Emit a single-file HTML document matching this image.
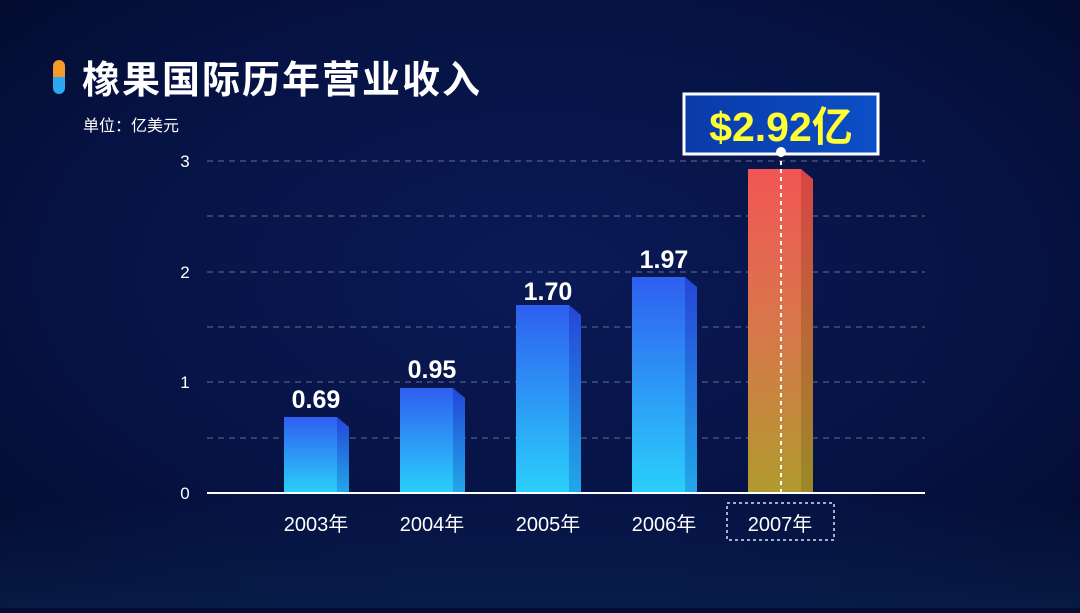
<!DOCTYPE html>
<html><head><meta charset="utf-8"><style>
body{margin:0;width:1080px;height:608px;overflow:hidden;background:#050d33;font-family:"Liberation Sans","Noto Sans CJK SC",sans-serif}
</style></head><body>
<svg width="1080" height="608" viewBox="0 0 1080 608" xmlns="http://www.w3.org/2000/svg" style="font-family:'Liberation Sans','Noto Sans CJK SC',sans-serif">
<defs>
<radialGradient id="bg" cx="0.5" cy="0.45" r="0.75">
<stop offset="0" stop-color="#0a1a55"/><stop offset="0.6" stop-color="#061243"/><stop offset="1" stop-color="#030a2a"/></radialGradient>
<linearGradient id="bf" x1="0" y1="0" x2="0" y2="1"><stop offset="0" stop-color="#2f5ff0"/><stop offset="1" stop-color="#2ad0fb"/></linearGradient>
<linearGradient id="bs" x1="0" y1="0" x2="0" y2="1"><stop offset="0" stop-color="#2545d8"/><stop offset="1" stop-color="#22a8e8"/></linearGradient>
<linearGradient id="rf" x1="0" y1="0" x2="0" y2="1"><stop offset="0" stop-color="#f25555"/><stop offset="0.5" stop-color="#d8784a"/><stop offset="1" stop-color="#b09a2e"/></linearGradient>
<linearGradient id="rs" x1="0" y1="0" x2="0" y2="1"><stop offset="0" stop-color="#d84545"/><stop offset="1" stop-color="#9a8a28"/></linearGradient>
<linearGradient id="lbl" x1="0" y1="0" x2="1" y2="0"><stop offset="0" stop-color="#0a3aa8"/><stop offset="1" stop-color="#0b4fc8"/></linearGradient>
<linearGradient id="pill" x1="0" y1="0" x2="0" y2="1"><stop offset="0" stop-color="#f59a2a"/><stop offset="0.5" stop-color="#f59a2a"/><stop offset="0.5" stop-color="#2aa8f0"/><stop offset="1" stop-color="#2aa8f0"/></linearGradient>
<linearGradient id="bot" x1="0" y1="0" x2="0" y2="1"><stop offset="0" stop-color="#0a2a5a" stop-opacity="0"/><stop offset="1" stop-color="#0a2a5a" stop-opacity="0.5"/></linearGradient>
</defs>
<rect width="1080" height="608" fill="url(#bg)"/>
<rect x="0" y="500" width="1080" height="108" fill="url(#bot)"/>
<rect x="53" y="60" width="12" height="34" rx="6" fill="url(#pill)"/>
<text x="82" y="93" font-size="38" font-weight="bold" fill="#fff" letter-spacing="2">橡果国际历年营业收入</text>
<text x="83" y="131" font-size="16" fill="#fff">单位：亿美元</text>
<g stroke="#8a93b0" stroke-dasharray="6,5" stroke-width="1" opacity="0.7">
<line x1="207" y1="161" x2="925" y2="161"/><line x1="207" y1="216" x2="925" y2="216"/>
<line x1="207" y1="272" x2="925" y2="272"/><line x1="207" y1="327" x2="925" y2="327"/>
<line x1="207" y1="382" x2="925" y2="382"/><line x1="207" y1="438" x2="925" y2="438"/>
</g>
<g font-size="17" fill="#fff" text-anchor="middle">
<text x="185" y="167">3</text><text x="185" y="278">2</text><text x="185" y="388">1</text><text x="185" y="499">0</text>
</g>
<g>
<rect x="284" y="417" width="53" height="76" fill="url(#bf)"/><polygon points="337,417 349,427 349,493 337,493" fill="url(#bs)"/>
<rect x="400" y="388" width="53" height="105" fill="url(#bf)"/><polygon points="453,388 465,398 465,493 453,493" fill="url(#bs)"/>
<rect x="516" y="305" width="53" height="188" fill="url(#bf)"/><polygon points="569,305 581,315 581,493 569,493" fill="url(#bs)"/>
<rect x="632" y="277" width="53" height="216" fill="url(#bf)"/><polygon points="685,277 697,287 697,493 685,493" fill="url(#bs)"/>
<rect x="748" y="169" width="53" height="324" fill="url(#rf)"/><polygon points="801,169 813,179 813,493 801,493" fill="url(#rs)"/>
</g>
<line x1="207" y1="493" x2="925" y2="493" stroke="#fff" stroke-width="2"/>
<g font-size="25" font-weight="bold" fill="#fff" text-anchor="middle">
<text x="316" y="408">0.69</text><text x="432" y="378">0.95</text><text x="548" y="300">1.70</text><text x="664" y="268">1.97</text>
</g>
<g font-size="20" fill="#fff" text-anchor="middle">
<text x="316" y="531">2003年</text><text x="432" y="531">2004年</text><text x="548" y="531">2005年</text><text x="664" y="531">2006年</text><text x="780" y="531">2007年</text>
</g>
<rect x="727" y="503" width="107" height="37" fill="none" stroke="#cfe3ff" stroke-width="1.5" stroke-dasharray="3,3"/>
<line x1="781" y1="153" x2="781" y2="493" stroke="#fff" stroke-width="2" stroke-dasharray="4,4"/>
<rect x="684" y="94" width="194" height="60" fill="url(#lbl)" stroke="#fff" stroke-width="3"/>
<text x="781" y="141" font-size="41" font-weight="bold" fill="#ffff33" text-anchor="middle">$2.92亿</text>
<circle cx="781" cy="152" r="5" fill="#fff"/>
</svg>
</body></html>
